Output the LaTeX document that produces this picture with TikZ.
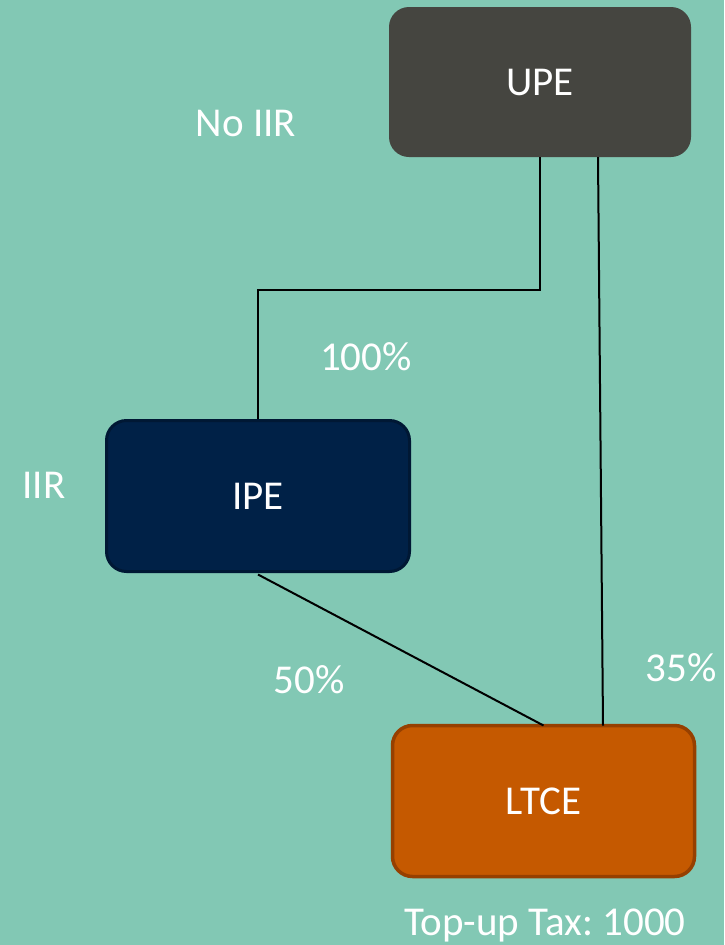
\documentclass[tikz,border=0pt]{standalone}
\usepackage{fontspec}
\setmainfont{Carlito}
\frenchspacing
\definecolor{bgteal}{RGB}{130,200,180}
\definecolor{upefill}{RGB}{69,69,64}
\definecolor{ipefill}{RGB}{0,33,71}
\definecolor{ipeline}{RGB}{0,24,52}
\definecolor{ltcefill}{RGB}{197,89,0}
\definecolor{ltceline}{RGB}{150,64,0}
\tikzset{
  entity/.style={rounded corners=20pt, inner sep=0pt, text=white,
    font=\fontsize{41}{49}\selectfont},
  lbl/.style={text=white, inner sep=0pt, font=\fontsize{41}{49}\selectfont},
  link/.style={draw=black, line width=2pt}
}
\begin{document}
\begin{tikzpicture}[x=1pt,y=-1pt]
  \fill[bgteal] (0,0) rectangle (724,945);
  \useasboundingbox (0,0) rectangle (724,945);

  % entities
  \node[entity, fill=upefill, minimum width=302pt, minimum height=150pt] (UPE) at (540,82) {UPE};
  \node[entity, fill=ipefill, draw=ipeline, line width=3pt, minimum width=303pt, minimum height=151pt] (IPE) at (258,496) {IPE};
  \node[entity, fill=ltcefill, draw=ltceline, line width=3.5pt, minimum width=302pt, minimum height=151pt] (LTCE) at (543.5,801) {LTCE};

  % ownership links
  \draw[link] (UPE.south) -- (UPE.south |- 0,290) -| (IPE.north);
  \draw[link] ([xshift=58pt]UPE.south) -- ([xshift=59.5pt,yshift=-1.75pt]LTCE.north);
  \draw[link] ([yshift=-1.5pt]IPE.south) -- ([yshift=-1.75pt]LTCE.north);

  % labels
  \node[lbl] (noiir) at (246,123) {No IIR};
  \node[lbl] (iir) at (44,485) {IIR};
  \node[lbl] (p100) at (366,357) {100\%};
  \node[lbl] (p50) at (309,680) {50\%};
  \node[lbl] (p35) at (681,668) {35\%};
  \node[lbl] (tax) at (545,925) {Top-up Tax: 1000};
\end{tikzpicture}
\end{document}
